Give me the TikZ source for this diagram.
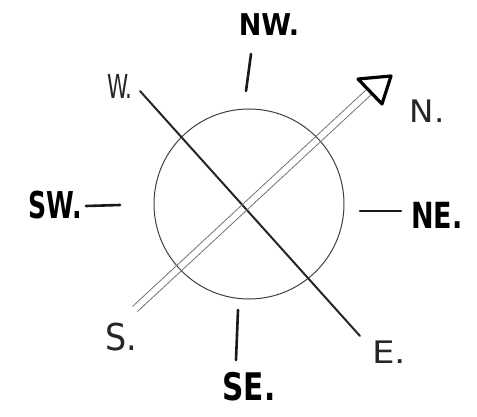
\documentclass[tikz,border=0pt]{standalone}
\usepackage{fontspec}
\setmainfont{DejaVu Sans}
\newcommand{\sx}[2]{\scalebox{#1}[1]{#2}}
\begin{document}
\begin{tikzpicture}[x=1pt,y=-1pt,
  tick/.style={line width=2.6pt, line cap=round, black!90},
  axisline/.style={line width=2pt, line cap=round, black!85},
  rim/.style={draw=black!75, line width=1pt},
  pencil/.style={line width=0.8pt, black!55},
  head/.style={line width=3.2pt, line join=round, black},
  boldlbl/.style={font=\bfseries, inner sep=0pt},
  thinlbl/.style={inner sep=0pt, black!85}]
\useasboundingbox (0,0) rectangle (477,417);
\fill[white] (0,0) rectangle (477,417);
% circle
\node[circle, rim, minimum size=190pt, inner sep=0pt] (c) at (249,204) {};
% W-E line
\coordinate (wend) at (140,91);
\coordinate (eend) at (360,336);
\draw[axisline] (wend) -- (eend);
% double arrow S -> N
\coordinate (s) at (135,309);
\coordinate (nb) at (370,91);
\draw[pencil] ([shift={(2.4,2.6)}]s) -- ([shift={(2.4,2.6)}]nb);
\draw[pencil] ([shift={(-2.4,-2.6)}]s) -- ([shift={(-2.4,-2.6)}]nb);
\coordinate (t1) at (358,79);
\coordinate (t2) at (391,76);
\coordinate (t3) at (382,104);
\draw[head] (t1) -- (t2) -- (t3) -- cycle;
% ticks
\coordinate (nw1) at (251,54); \coordinate (nw2) at (246,91);
\draw[tick] (nw1) -- (nw2);
\coordinate (se1) at (238,310); \coordinate (se2) at (236,360);
\draw[tick] (se1) -- (se2);
\coordinate (sw1) at (86,206); \coordinate (sw2) at (120,205);
\draw[tick] (sw1) -- (sw2);
\coordinate (ne1) at (360,211); \coordinate (ne2) at (401,211);
\draw[tick] (ne1) -- (ne2);
% labels
\node[boldlbl] (lnw) at (269,25) {\fontsize{30}{30}\selectfont\sx{0.9}{NW.}};
\node[boldlbl] (lsw) at (55,205) {\fontsize{37}{37}\selectfont\sx{0.68}{SW.}};
\node[boldlbl] (lne) at (437,215) {\fontsize{36}{36}\selectfont\sx{0.75}{NE.}};
\node[boldlbl] (lse) at (249,387) {\fontsize{38}{38}\selectfont\sx{0.78}{SE.}};
\node[thinlbl] (lw) at (120,86) {\fontsize{33}{33}\selectfont\sx{0.65}{W.}};
\node[thinlbl] (ln) at (427,111) {\fontsize{31}{31}\selectfont\sx{1.05}{N.}};
\node[thinlbl] (ls) at (121,337) {\fontsize{37}{37}\selectfont\sx{0.9}{S.}};
\node[thinlbl] (le) at (389,352) {\fontsize{31}{31}\selectfont\sx{1.15}{E.}};
\end{tikzpicture}
\end{document}
